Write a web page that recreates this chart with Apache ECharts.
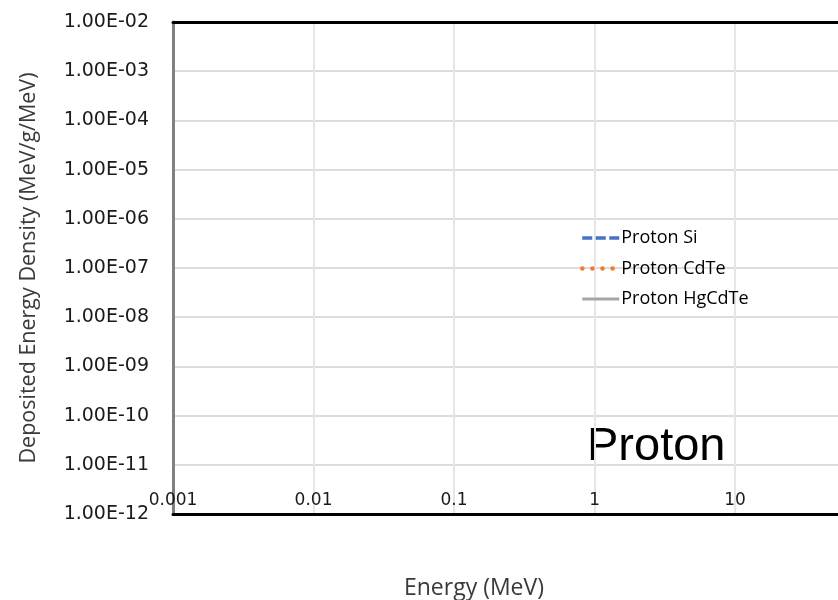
<!DOCTYPE html>
<html>
<head>
<meta charset="utf-8">
<script src="https://cdn.jsdelivr.net/npm/echarts@6/dist/echarts.min.js"></script>
<style>
  html, body { margin: 0; padding: 0; background: #fff; }
  #chart { width: 838px; height: 600px; }
</style>
</head>
<body>
<div id="chart"></div>
<script>
// Series names and their (energy, deposited density) points
const seriesNames = ['Proton Si', 'Proton CdTe', 'Proton HgCdTe'];
const protonSi = [];
const protonCdTe = [];
const protonHgCdTe = [];

// Axis ranges (log scale); the energy axis runs past the right edge of the canvas
const xRange = [0.001, 54];
const yRange = [1e-12, 1e-2];

const FONT = '"Open Sans", Lato, sans-serif';
const TICK_FONT = '"DejaVu Sans", "Open Sans", sans-serif';

const seriesColors = ['#4472C4', '#ED7D31', '#A5A5A5'];
const seriesLines = [
  { color: seriesColors[0], width: 3.5, type: [10, 3.5] },
  { color: seriesColors[1], width: 4.5, type: [0.1, 10], cap: 'round' },
  { color: seriesColors[2], width: 3, type: 'solid' }
];

function sciLabel(v) {
  const e = Math.round(Math.log10(v));
  const sign = e < 0 ? '-' : '+';
  const a = Math.abs(e);
  return '1.00E' + sign + (a < 10 ? '0' + a : a);
}

function energyLabel(v) {
  const e = Math.log10(v);
  if (Math.abs(e - Math.round(e)) > 1e-6) return '';
  return String(+v.toPrecision(3));
}

const chart = echarts.init(document.getElementById('chart'), null, { renderer: 'canvas' });

chart.setOption({
  animation: false,
  backgroundColor: '#fff',
  grid: { left: 173, top: 22, right: 0, height: 492, containLabel: false },
  legend: {
    orient: 'vertical',
    left: 580,
    top: 229,
    padding: 0,
    itemWidth: 37,
    itemHeight: 14,
    itemGap: 12.5,
    itemStyle: { opacity: 0 },
    lineStyle: { width: 3.5 },
    data: seriesNames.map((n, i) => ({ name: n, lineStyle: seriesLines[i] })),
    textStyle: { fontFamily: FONT, fontSize: 18, color: '#000', padding: [0, 0, 0, -3] }
  },
  xAxis: [{
    type: 'log',
    logBase: 10,
    min: xRange[0],
    max: xRange[1],
    position: 'bottom',
    axisLine: { show: true, onZero: false, lineStyle: { color: '#000', width: 3 } },
    axisTick: { show: false },
    axisLabel: {
      inside: true,
      margin: 5,
      showMaxLabel: false,
      fontFamily: TICK_FONT,
      fontSize: 17,
      color: '#1a1a1a',
      formatter: energyLabel
    },
    splitLine: { show: true, showMaxLine: false, lineStyle: { color: '#e6e6e6', width: 2 } },
    minorSplitLine: { show: false }
  }, {
    type: 'log',
    logBase: 10,
    min: xRange[0],
    max: xRange[1],
    position: 'top',
    axisLine: { show: true, onZero: false, lineStyle: { color: '#000', width: 3 } },
    axisTick: { show: false },
    axisLabel: { show: false },
    splitLine: { show: false }
  }],
  yAxis: {
    type: 'log',
    logBase: 10,
    min: yRange[0],
    max: yRange[1],
    interval: 1,
    axisLine: { show: true, onZero: false, lineStyle: { color: '#808080', width: 3 } },
    axisTick: { show: false },
    axisLabel: {
      margin: 24,
      fontFamily: TICK_FONT,
      fontSize: 19,
      color: '#1a1a1a',
      formatter: sciLabel
    },
    splitLine: { show: true, lineStyle: { color: '#dcdcdc', width: 2 } }
  },
  graphic: [
    {
      type: 'text',
      x: 29, y: 268,
      rotation: Math.PI / 2,
      style: {
        text: 'Deposited Energy Density (MeV/g/MeV)',
        fontFamily: FONT, fontSize: 21.5, fill: '#3a3a3a',
        textAlign: 'center', textVerticalAlign: 'middle'
      }
    },
    {
      type: 'text',
      x: 474, y: 588,
      style: {
        text: 'Energy (MeV)',
        fontFamily: FONT, fontSize: 23, fill: '#3a3a3a',
        textAlign: 'center', textVerticalAlign: 'middle'
      }
    },
    {
      type: 'text',
      x: 587, y: 447,
      style: {
        text: 'Proton',
        fontFamily: '"Liberation Sans", Arial, sans-serif', fontSize: 47, fill: '#000',
        textAlign: 'left', textVerticalAlign: 'middle'
      }
    }
  ],
  series: seriesNames.map((n, i) => ({
    name: n,
    type: 'line',
    symbol: 'none',
    data: [protonSi, protonCdTe, protonHgCdTe][i],
    lineStyle: seriesLines[i],
    itemStyle: { color: seriesColors[i] }
  }))
});
</script>
</body>
</html>
